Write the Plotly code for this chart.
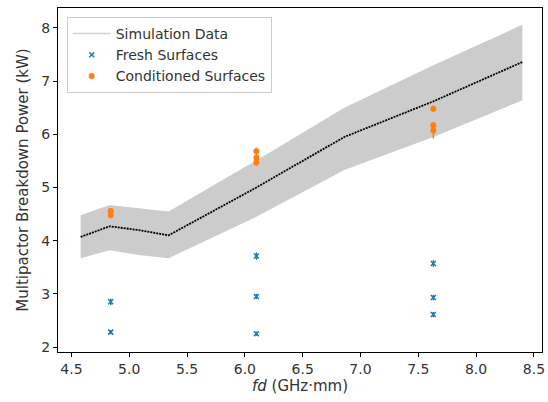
import plotly.graph_objects as go

# Simulation data
sim_x = [4.58, 4.83, 5.08, 5.34, 6.1, 6.86, 7.63, 8.4]
sim_y = [4.07, 4.27, 4.2, 4.1, 5.0, 5.95, 6.62, 7.36]
sim_upper = [4.48, 4.67, 4.61, 4.55, 5.51, 6.5, 7.3, 8.06]
sim_lower = [3.67, 3.82, 3.73, 3.67, 4.45, 5.33, 5.95, 6.64]

# Fresh surfaces
fresh_x = [4.84, 4.84, 6.1, 6.1, 6.1, 7.63, 7.63, 7.63]
fresh_y = [2.85, 2.28, 3.71, 2.95, 2.25, 3.57, 2.93, 2.61]
fresh_err = [0.06, 0.04, 0.07, 0.05, 0.04, 0.06, 0.05, 0.05]

# Conditioned surfaces
cond_x = [4.84, 4.84, 6.1, 6.1, 6.1, 7.63, 7.63, 7.63]
cond_y = [4.56, 4.48, 5.68, 5.56, 5.47, 6.48, 6.17, 6.07]
cond_err = [0.05, 0.05, 0.07, 0.05, 0.06, 0.06, 0.06, 0.15]

x_ticks = [4.5, 5.0, 5.5, 6.0, 6.5, 7.0, 7.5, 8.0, 8.5]
y_ticks = [2, 3, 4, 5, 6, 7, 8]

BLUE = "#1f77b4"
ORANGE = "#ff7f0e"
BAND = "#cccccc"
TEXT = "#333333"

fig = go.Figure()

fig.add_trace(go.Scatter(x=sim_x, y=sim_upper, mode="lines", line=dict(width=0, color=BAND),
                         showlegend=False, hoverinfo="skip"))
fig.add_trace(go.Scatter(x=sim_x, y=sim_lower, mode="lines", line=dict(width=0, color=BAND),
                         fill="tonexty", fillcolor=BAND, showlegend=False, hoverinfo="skip"))
fig.add_trace(go.Scatter(x=sim_x, y=sim_y, mode="lines",
                         line=dict(color="black", width=1.8, dash="2px,1px"), showlegend=False))
# legend entry for simulation
fig.add_trace(go.Scatter(x=[None], y=[None], mode="lines", name="Simulation Data",
                         line=dict(color="#d3d3d3", width=1.5)))

fig.add_trace(go.Scatter(x=fresh_x, y=fresh_y, mode="markers", name="Fresh Surfaces",
                         marker=dict(symbol="x-thin", size=5, color=BLUE, line=dict(width=1.5, color=BLUE)),
                         error_y=dict(type="data", array=fresh_err, color=BLUE, thickness=1.5, width=0)))
fig.add_trace(go.Scatter(x=cond_x, y=cond_y, mode="markers", name="Conditioned Surfaces",
                         marker=dict(symbol="circle", size=6, color=ORANGE),
                         error_y=dict(type="data", array=cond_err, color=ORANGE, thickness=1.5, width=0)))

axis_common = dict(showline=True, linecolor="black", linewidth=1, mirror=True,
                   ticks="outside", ticklen=4, tickcolor="black", showgrid=False, zeroline=False,
                   tickfont=dict(family="DejaVu Sans", size=14, color=TEXT))

fig.update_layout(
    width=548, height=402,
    margin=dict(l=58, r=3, t=8, b=50),
    plot_bgcolor="white", paper_bgcolor="white",
    font=dict(family="DejaVu Sans", size=14, color=TEXT),
    xaxis=dict(range=[4.384, 8.57], tickvals=x_ticks, ticktext=[f"{v:.1f}" for v in x_ticks],
               title=dict(text="<i>fd</i> (GHz·mm)", font=dict(size=15), standoff=2), **axis_common),
    yaxis=dict(range=[1.906, 8.376], tickvals=y_ticks, ticktext=[str(v) for v in y_ticks],
               title=dict(text="Multipactor Breakdown Power (kW)", font=dict(size=15), standoff=9),
               **axis_common),
    legend=dict(x=0.018, y=0.974, xanchor="left", yanchor="top", bgcolor="rgba(255,255,255,0.8)",
                bordercolor="#cccccc", borderwidth=1, font=dict(size=14, color=TEXT),
                tracegroupgap=0, traceorder="normal", itemwidth=38),
)

fig.write_html("out.html")
